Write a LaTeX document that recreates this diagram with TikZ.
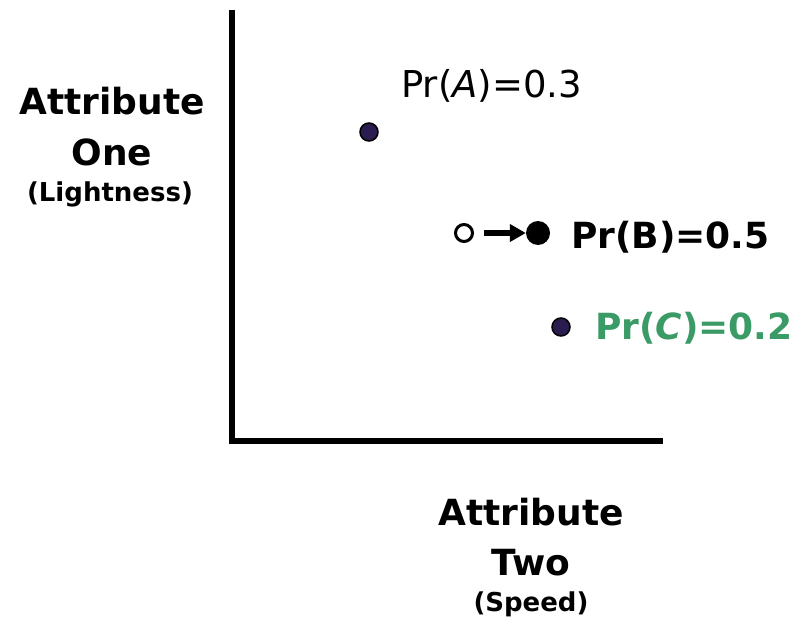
\documentclass[tikz,border=0pt]{standalone}
\usepackage{fontspec}
\setmainfont{DejaVu Sans}
\usetikzlibrary{arrows.meta}
\definecolor{navy}{RGB}{42,28,78}
\definecolor{pgreen}{RGB}{58,155,102}
\begin{document}
\begin{tikzpicture}[x=1pt,y=-1pt,
  axis/.style={line width=6pt},
  dot/.style={circle,draw=black,line width=1.5pt,fill=navy,minimum size=18pt,inner sep=0pt},
  lbl/.style={inner sep=0pt,anchor=west,font=\fontsize{37}{40}\selectfont},
  big/.style={inner sep=0pt,font=\fontsize{36}{40}\selectfont\bfseries},
  small/.style={inner sep=0pt,font=\fontsize{26}{28}\selectfont\bfseries}]
\useasboundingbox (0,0) rectangle (797,626);
\coordinate (top) at (232,10);
\coordinate (origin) at (232,441);
\coordinate (right) at (663,441);
\draw[axis] (top) -- ([yshift=3pt]origin);
\draw[axis] ([xshift=-3pt]origin) -- (right);
\node[dot] (A) at (369,132) {};
\node[lbl] (lA) at (401,86) {Pr(\textit{A})=0.3};
\node[circle,draw=black,line width=3pt,fill=white,minimum size=17pt,inner sep=0pt] (B0) at (464,233) {};
\node[circle,fill=black,minimum size=24pt,inner sep=0pt] (B1) at (538,233) {};
\draw[line width=6pt,-{Triangle[length=16pt,width=17pt]}] ([xshift=10pt]B0.east) -- ([xshift=0pt]B1.west);
\node[lbl,font=\fontsize{36}{40}\selectfont\bfseries] (lB) at (571,237) {Pr(B)=0.5};
\node[dot] (C) at (561,327) {};
\node[lbl,font=\fontsize{36}{40}\selectfont\bfseries,text=pgreen] (lC) at (595,328) {Pr(\textit{C})=0.2};
\node[big] (y1) at (112,101) {Attribute};
\node[big] (y2) at (112,152) {One};
\node[small] (y3) at (110,194) {(Lightness)};
\node[big] (x1) at (531,512) {Attribute};
\node[big] (x2) at (531,563) {Two};
\node[small] (x3) at (531,604) {(Speed)};
\end{tikzpicture}
\end{document}
